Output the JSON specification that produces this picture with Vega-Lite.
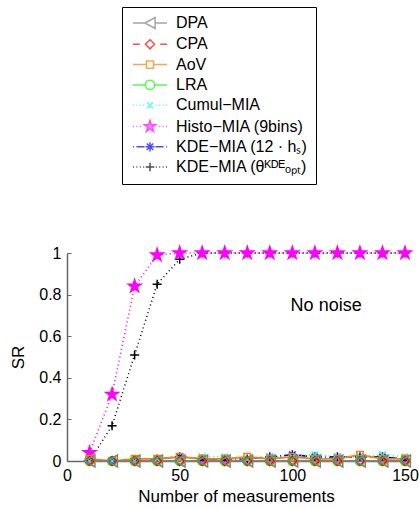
{
  "$schema": "https://vega.github.io/schema/vega-lite/v6.json",
  "width": 338,
  "height": 208,
  "autosize": {"type": "none"},
  "padding": {"left": 67, "top": 253, "right": 14, "bottom": 48},
  "background": "white",
  "config": {
    "font": "Liberation Sans",
    "view": {"stroke": null},
    "axis": {
      "grid": false,
      "domainColor": "#666666",
      "domainWidth": 1.5,
      "tickColor": "#666666",
      "tickSize": -4,
      "labelFontSize": 16,
      "labelColor": "black",
      "labelFlush": false,
      "titleFontSize": 17,
      "titleFontWeight": "normal",
      "titleColor": "black"
    },
    "legend": {
      "orient": "none",
      "legendX": 55,
      "legendY": -246,
      "strokeColor": "black",
      "fillColor": "white",
      "padding": 8,
      "labelFont": "Liberation Sans",
      "labelFontSize": 16,
      "labelColor": "black",
      "rowPadding": 4.3,
      "symbolSize": 100,
      "labelOffset": 30,
      "symbolStrokeWidth": 1.5,
      "labelLimit": 300
    }
  },
  "data": {
    "values": [
      {"series": "KDE−MIA (θᴷᴰᴱₒₚₜ)", "n": 10, "sr": 0},
      {"series": "KDE−MIA (θᴷᴰᴱₒₚₜ)", "n": 20, "sr": 0.17},
      {"series": "KDE−MIA (θᴷᴰᴱₒₚₜ)", "n": 30, "sr": 0.51},
      {"series": "KDE−MIA (θᴷᴰᴱₒₚₜ)", "n": 40, "sr": 0.85},
      {"series": "KDE−MIA (θᴷᴰᴱₒₚₜ)", "n": 50, "sr": 0.97},
      {"series": "KDE−MIA (θᴷᴰᴱₒₚₜ)", "n": 60, "sr": 1},
      {"series": "KDE−MIA (θᴷᴰᴱₒₚₜ)", "n": 70, "sr": 1},
      {"series": "KDE−MIA (θᴷᴰᴱₒₚₜ)", "n": 80, "sr": 1},
      {"series": "KDE−MIA (θᴷᴰᴱₒₚₜ)", "n": 90, "sr": 1},
      {"series": "KDE−MIA (θᴷᴰᴱₒₚₜ)", "n": 100, "sr": 1},
      {"series": "KDE−MIA (θᴷᴰᴱₒₚₜ)", "n": 110, "sr": 1},
      {"series": "KDE−MIA (θᴷᴰᴱₒₚₜ)", "n": 120, "sr": 1},
      {"series": "KDE−MIA (θᴷᴰᴱₒₚₜ)", "n": 130, "sr": 1},
      {"series": "KDE−MIA (θᴷᴰᴱₒₚₜ)", "n": 140, "sr": 1},
      {"series": "KDE−MIA (θᴷᴰᴱₒₚₜ)", "n": 150, "sr": 1},
      {"series": "Histo−MIA (9bins)", "n": 10, "sr": 0.04},
      {"series": "Histo−MIA (9bins)", "n": 20, "sr": 0.32},
      {"series": "Histo−MIA (9bins)", "n": 30, "sr": 0.84},
      {"series": "Histo−MIA (9bins)", "n": 40, "sr": 0.99},
      {"series": "Histo−MIA (9bins)", "n": 50, "sr": 1},
      {"series": "Histo−MIA (9bins)", "n": 60, "sr": 1},
      {"series": "Histo−MIA (9bins)", "n": 70, "sr": 1},
      {"series": "Histo−MIA (9bins)", "n": 80, "sr": 1},
      {"series": "Histo−MIA (9bins)", "n": 90, "sr": 1},
      {"series": "Histo−MIA (9bins)", "n": 100, "sr": 1},
      {"series": "Histo−MIA (9bins)", "n": 110, "sr": 1},
      {"series": "Histo−MIA (9bins)", "n": 120, "sr": 1},
      {"series": "Histo−MIA (9bins)", "n": 130, "sr": 1},
      {"series": "Histo−MIA (9bins)", "n": 140, "sr": 1},
      {"series": "Histo−MIA (9bins)", "n": 150, "sr": 1},
      {"series": "KDE−MIA (12 · hₛ)", "n": 10, "sr": 0},
      {"series": "KDE−MIA (12 · hₛ)", "n": 20, "sr": 0},
      {"series": "KDE−MIA (12 · hₛ)", "n": 30, "sr": 0},
      {"series": "KDE−MIA (12 · hₛ)", "n": 40, "sr": 0.01},
      {"series": "KDE−MIA (12 · hₛ)", "n": 50, "sr": 0.02},
      {"series": "KDE−MIA (12 · hₛ)", "n": 60, "sr": 0.01},
      {"series": "KDE−MIA (12 · hₛ)", "n": 70, "sr": 0.01},
      {"series": "KDE−MIA (12 · hₛ)", "n": 80, "sr": 0.01},
      {"series": "KDE−MIA (12 · hₛ)", "n": 90, "sr": 0.02},
      {"series": "KDE−MIA (12 · hₛ)", "n": 100, "sr": 0.03},
      {"series": "KDE−MIA (12 · hₛ)", "n": 110, "sr": 0.02},
      {"series": "KDE−MIA (12 · hₛ)", "n": 120, "sr": 0.02},
      {"series": "KDE−MIA (12 · hₛ)", "n": 130, "sr": 0.02},
      {"series": "KDE−MIA (12 · hₛ)", "n": 140, "sr": 0.02},
      {"series": "KDE−MIA (12 · hₛ)", "n": 150, "sr": 0.01},
      {"series": "Cumul−MIA", "n": 10, "sr": 0},
      {"series": "Cumul−MIA", "n": 20, "sr": 0},
      {"series": "Cumul−MIA", "n": 30, "sr": 0},
      {"series": "Cumul−MIA", "n": 40, "sr": 0.01},
      {"series": "Cumul−MIA", "n": 50, "sr": 0.01},
      {"series": "Cumul−MIA", "n": 60, "sr": 0.02},
      {"series": "Cumul−MIA", "n": 70, "sr": 0.02},
      {"series": "Cumul−MIA", "n": 80, "sr": 0.01},
      {"series": "Cumul−MIA", "n": 90, "sr": 0.02},
      {"series": "Cumul−MIA", "n": 100, "sr": 0.02},
      {"series": "Cumul−MIA", "n": 110, "sr": 0.03},
      {"series": "Cumul−MIA", "n": 120, "sr": 0.02},
      {"series": "Cumul−MIA", "n": 130, "sr": 0.02},
      {"series": "Cumul−MIA", "n": 140, "sr": 0.03},
      {"series": "Cumul−MIA", "n": 150, "sr": 0.02},
      {"series": "AoV", "n": 10, "sr": 0.01},
      {"series": "AoV", "n": 20, "sr": 0},
      {"series": "AoV", "n": 30, "sr": 0.01},
      {"series": "AoV", "n": 40, "sr": 0.01},
      {"series": "AoV", "n": 50, "sr": 0.02},
      {"series": "AoV", "n": 60, "sr": 0.01},
      {"series": "AoV", "n": 70, "sr": 0.01},
      {"series": "AoV", "n": 80, "sr": 0.02},
      {"series": "AoV", "n": 90, "sr": 0.01},
      {"series": "AoV", "n": 100, "sr": 0.02},
      {"series": "AoV", "n": 110, "sr": 0.01},
      {"series": "AoV", "n": 120, "sr": 0.01},
      {"series": "AoV", "n": 130, "sr": 0.03},
      {"series": "AoV", "n": 140, "sr": 0.01},
      {"series": "AoV", "n": 150, "sr": 0.01},
      {"series": "LRA", "n": 10, "sr": 0},
      {"series": "LRA", "n": 20, "sr": 0},
      {"series": "LRA", "n": 30, "sr": 0},
      {"series": "LRA", "n": 40, "sr": 0},
      {"series": "LRA", "n": 50, "sr": 0},
      {"series": "LRA", "n": 60, "sr": 0},
      {"series": "LRA", "n": 70, "sr": 0},
      {"series": "LRA", "n": 80, "sr": 0},
      {"series": "LRA", "n": 90, "sr": 0},
      {"series": "LRA", "n": 100, "sr": 0},
      {"series": "LRA", "n": 110, "sr": 0},
      {"series": "LRA", "n": 120, "sr": 0},
      {"series": "LRA", "n": 130, "sr": 0},
      {"series": "LRA", "n": 140, "sr": 0},
      {"series": "LRA", "n": 150, "sr": 0},
      {"series": "CPA", "n": 10, "sr": 0},
      {"series": "CPA", "n": 20, "sr": 0},
      {"series": "CPA", "n": 30, "sr": 0},
      {"series": "CPA", "n": 40, "sr": 0},
      {"series": "CPA", "n": 50, "sr": 0},
      {"series": "CPA", "n": 60, "sr": 0},
      {"series": "CPA", "n": 70, "sr": 0},
      {"series": "CPA", "n": 80, "sr": 0},
      {"series": "CPA", "n": 90, "sr": 0},
      {"series": "CPA", "n": 100, "sr": 0},
      {"series": "CPA", "n": 110, "sr": 0},
      {"series": "CPA", "n": 120, "sr": 0},
      {"series": "CPA", "n": 130, "sr": 0},
      {"series": "CPA", "n": 140, "sr": 0},
      {"series": "CPA", "n": 150, "sr": 0},
      {"series": "DPA", "n": 10, "sr": 0},
      {"series": "DPA", "n": 20, "sr": 0},
      {"series": "DPA", "n": 30, "sr": 0},
      {"series": "DPA", "n": 40, "sr": 0},
      {"series": "DPA", "n": 50, "sr": 0},
      {"series": "DPA", "n": 60, "sr": 0},
      {"series": "DPA", "n": 70, "sr": 0},
      {"series": "DPA", "n": 80, "sr": 0},
      {"series": "DPA", "n": 90, "sr": 0},
      {"series": "DPA", "n": 100, "sr": 0},
      {"series": "DPA", "n": 110, "sr": 0},
      {"series": "DPA", "n": 120, "sr": 0},
      {"series": "DPA", "n": 130, "sr": 0},
      {"series": "DPA", "n": 140, "sr": 0},
      {"series": "DPA", "n": 150, "sr": 0}
    ]
  },
  "layer": [
    {
      "mark": {"type": "line", "clip": false},
      "encoding": {
        "x": {
          "field": "n", "type": "quantitative",
          "scale": {"domain": [0, 150], "nice": false},
          "axis": {"values": [0, 50, 100, 150], "title": "Number of measurements", "titlePadding": 5, "labelPadding": 10}
        },
        "y": {
          "field": "sr", "type": "quantitative",
          "scale": {"domain": [0, 1], "nice": false},
          "axis": {"values": [0, 0.2, 0.4, 0.6, 0.8, 1], "format": "~g", "title": "SR", "titlePadding": 11, "labelPadding": 10}
        },
        "color": {
          "field": "series", "type": "nominal", "legend": null,
          "scale": {
            "domain": ["DPA", "CPA", "AoV", "LRA", "Cumul−MIA", "Histo−MIA (9bins)", "KDE−MIA (12 · hₛ)", "KDE−MIA (θᴷᴰᴱₒₚₜ)"],
            "range": ["#808080", "#ff0000", "#ff8000", "#00ff00", "#00ffff", "#ff00ff", "#0000ff", "#000000"]
          }
        },
        "strokeDash": {
          "field": "series", "type": "nominal", "legend": null,
          "scale": {
            "domain": ["DPA", "CPA", "AoV", "LRA", "Cumul−MIA", "Histo−MIA (9bins)", "KDE−MIA (12 · hₛ)", "KDE−MIA (θᴷᴰᴱₒₚₜ)"],
            "range": [[1, 0], [6, 4], [1, 0], [1, 0], [1, 3], [1, 3], [8, 3, 1, 3], [1, 3]]
          }
        },
        "strokeWidth": {
          "field": "series", "type": "nominal", "legend": null,
          "scale": {
            "domain": ["DPA", "CPA", "AoV", "LRA", "Cumul−MIA", "Histo−MIA (9bins)", "KDE−MIA (12 · hₛ)", "KDE−MIA (θᴷᴰᴱₒₚₜ)"],
            "range": [2, 1.5, 1.5, 2, 1.5, 1.5, 2, 1.2]
          }
        }
      }
    },
    {
      "mark": {"type": "point", "filled": false, "size": 144, "strokeWidth": 1.5, "opacity": 1, "clip": false},
      "encoding": {
        "x": {"field": "n", "type": "quantitative"},
        "y": {"field": "sr", "type": "quantitative"},
        "color": {
          "field": "series", "type": "nominal", "legend": null,
          "scale": {
            "domain": ["DPA", "CPA", "AoV", "LRA", "Cumul−MIA", "Histo−MIA (9bins)", "KDE−MIA (12 · hₛ)", "KDE−MIA (θᴷᴰᴱₒₚₜ)"],
            "range": ["#808080", "#ff0000", "#ff8000", "#00ff00", "#00ffff", "#ff00ff", "#0000ff", "#000000"]
          }
        },
        "fill": {
          "field": "series", "type": "nominal", "legend": null,
          "scale": {
            "domain": ["DPA", "CPA", "AoV", "LRA", "Cumul−MIA", "Histo−MIA (9bins)", "KDE−MIA (12 · hₛ)", "KDE−MIA (θᴷᴰᴱₒₚₜ)"],
            "range": ["transparent", "transparent", "transparent", "transparent", "transparent", "#ff00ff", "transparent", "transparent"]
          }
        },
        "shape": {
          "field": "series", "type": "nominal", "legend": null,
          "scale": {
            "domain": ["DPA", "CPA", "AoV", "LRA", "Cumul−MIA", "Histo−MIA (9bins)", "KDE−MIA (12 · hₛ)", "KDE−MIA (θᴷᴰᴱₒₚₜ)"],
            "range": [
              "M-0.9,0L0.9,-1L0.9,1Z",
              "M0,-0.75L0.75,0L0,0.75L-0.75,0Z",
              "M-0.55,-0.55H0.55V0.55H-0.55Z",
              "M-0.75,0A0.75,0.75 0 1,0 0.75,0A0.75,0.75 0 1,0 -0.75,0Z",
              "M-0.55,-0.55L0.55,0.55M-0.55,0.55L0.55,-0.55",
              "M0,-1.1L0.247,-0.34L1.046,-0.34L0.4,0.13L0.647,0.89L0,0.42L-0.647,0.89L-0.4,0.13L-1.046,-0.34L-0.247,-0.34Z",
              "M-0.75,0H0.75M0,-0.75V0.75M-0.53,-0.53L0.53,0.53M-0.53,0.53L0.53,-0.53",
              "M-0.75,0H0.75M0,-0.75V0.75"
            ]
          }
        }
      }
    },
    {
      "transform": [{"filter": "false"}],
      "mark": {"type": "point", "filled": false, "size": 100, "strokeWidth": 1.5},
      "encoding": {
        "color": {
          "field": "series", "type": "nominal", "title": null,
          "scale": {
            "domain": ["DPA", "CPA", "AoV", "LRA", "Cumul−MIA", "Histo−MIA (9bins)", "KDE−MIA (12 · hₛ)", "KDE−MIA (θᴷᴰᴱₒₚₜ)"],
            "range": ["#808080", "#ff0000", "#ff8000", "#00ff00", "#00ffff", "#ff00ff", "#0000ff", "#000000"]
          }
        },
        "fill": {
          "field": "series", "type": "nominal", "title": null,
          "scale": {
            "domain": ["DPA", "CPA", "AoV", "LRA", "Cumul−MIA", "Histo−MIA (9bins)", "KDE−MIA (12 · hₛ)", "KDE−MIA (θᴷᴰᴱₒₚₜ)"],
            "range": ["transparent", "transparent", "transparent", "transparent", "transparent", "#ff00ff", "transparent", "transparent"]
          }
        },
        "shape": {
          "field": "series", "type": "nominal", "title": null,
          "scale": {
            "domain": ["DPA", "CPA", "AoV", "LRA", "Cumul−MIA", "Histo−MIA (9bins)", "KDE−MIA (12 · hₛ)", "KDE−MIA (θᴷᴰᴱₒₚₜ)"],
            "range": [
              "M-1,0H1.38M3.42,0H5.8M1.38,0L3.42,-1.09L3.42,1.09Z",
              "M-1,0H0.36M4.44,0H5.8M2.4,-0.92L3.32,0L2.4,0.92L1.48,0Z",
              "M-1,0H1.69M3.11,0H5.8M1.69,-0.71H3.11V0.71H1.69Z",
              "M-1,0H1.48M3.32,0H5.8M1.48,0A0.92,0.92 0 1,0 3.32,0A0.92,0.92 0 1,0 1.48,0Z",
              "M-1,0h0.2M-0.32,0h0.2M0.36,0h0.2M1.04,0h0.2M3.56,0h0.2M4.24,0h0.2M4.92,0h0.2M5.6,0h0.2M1.82,-0.58L2.98,0.58M1.82,0.58L2.98,-0.58",
              "M-1,0h0.2M-0.32,0h0.2M0.36,0h0.2M4.24,0h0.2M4.92,0h0.2M5.6,0h0.2M2.4,-1.2L2.67,-0.37L3.54,-0.37L2.84,0.14L3.11,0.97L2.4,0.46L1.69,0.97L1.96,0.14L1.26,-0.37L2.13,-0.37Z",
              "M-1,0h0.2M-0.3,0H1.3M3.5,0H5.1M5.6,0h0.2M1.48,0H3.32M2.4,-0.92V0.92M1.75,-0.65L3.05,0.65M1.75,0.65L3.05,-0.65",
              "M-1,0h0.2M-0.32,0h0.2M0.36,0h0.2M1.04,0h0.2M3.56,0h0.2M4.24,0h0.2M4.92,0h0.2M5.6,0h0.2M1.55,0H3.25M2.4,-0.85V0.85"
            ]
          }
        }
      }
    },
    {
      "data": {"values": [{}]},
      "mark": {"type": "text", "fontSize": 18, "font": "Liberation Sans", "color": "black"},
      "encoding": {
        "x": {"datum": 115, "type": "quantitative"},
        "y": {"datum": 0.747, "type": "quantitative"},
        "text": {"value": "No noise"}
      }
    }
  ],
  "resolve": {
    "scale": {"color": "independent", "fill": "independent", "shape": "independent", "strokeDash": "independent", "strokeWidth": "independent"},
    "legend": {"color": "independent", "fill": "independent", "shape": "independent"}
  }
}
